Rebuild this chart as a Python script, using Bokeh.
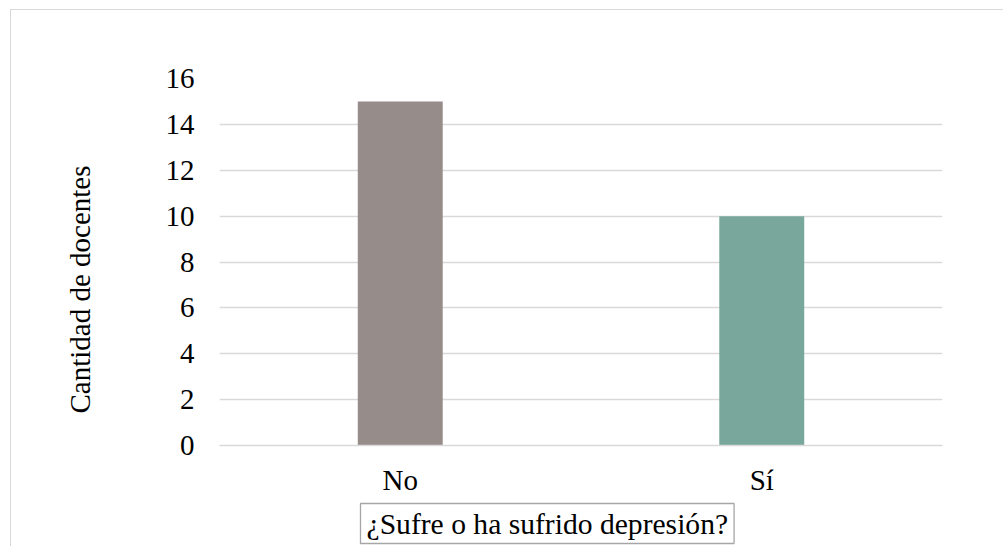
import math
from bokeh.plotting import figure
from bokeh.layouts import column
from bokeh.models import FactorRange, Range1d, FixedTicker, Title, ColumnDataSource
from bokeh.embed import file_html
from bokeh.resources import INLINE

categories = ["No", "Sí"]
values = [15, 10]
colors = ["#968C89", "#7AA79B"]
y_ticks = [0, 2, 4, 6, 8, 10, 12, 14, 16]
x_title = "¿Sufre o ha sufrido depresión?"
y_title = "Cantidad de docentes"

FONT = "Liberation Serif"
FS = "29px"

src = ColumnDataSource(dict(cat=categories, val=values, color=colors))

p = figure(width=992, height=536, x_range=FactorRange(*categories), y_range=Range1d(0, 16),
           output_backend="svg", toolbar_location=None,
           min_border_left=208, min_border_right=61, min_border_top=68, min_border_bottom=101)
p.outline_line_color = None
p.background_fill_color = "white"
p.border_fill_color = "white"

p.vbar(x="cat", top="val", width=0.235, color="color", source=src, line_color=None)

p.xgrid.grid_line_color = None
p.ygrid.grid_line_color = "#D9D9D9"
p.ygrid.grid_line_width = 1.3
p.yaxis.ticker = FixedTicker(ticks=y_ticks)

for ax in (p.xaxis[0], p.yaxis[0]):
    ax.major_tick_line_color = None
    ax.minor_tick_line_color = None
    ax.major_tick_out = 0
    ax.major_tick_in = 0
    ax.major_label_text_font = FONT
    ax.major_label_text_font_size = FS
    ax.major_label_text_color = "black"
p.yaxis.axis_line_color = None
p.xaxis.axis_line_color = "#D9D9D9"
p.xaxis.axis_line_width = 1.3
p.yaxis.major_label_standoff = 25
p.xaxis.major_label_standoff = 18

p.add_layout(Title(text=y_title, align="left", offset=32, standoff=10,
                   text_font=FONT, text_font_size=FS, text_font_style="normal",
                   text_color="black", padding=dict(left=0, right=0, top=0, bottom=62)), "left")
p.add_layout(Title(text=x_title, align="left", offset=141, standoff=6,
                   text_font=FONT, text_font_size="29.6px", text_font_style="normal",
                   text_color="black", border_line_color="#A6A6A6",
                   border_line_width=1.3, padding=dict(left=6, right=6, top=4, bottom=4)), "below")

layout = column(p, margin=(9, 0, 0, 10),
                styles={"border-left": "1px solid #D9D9D9", "border-top": "1px solid #D9D9D9"})

open("out.html", "w").write(file_html(layout, INLINE))
